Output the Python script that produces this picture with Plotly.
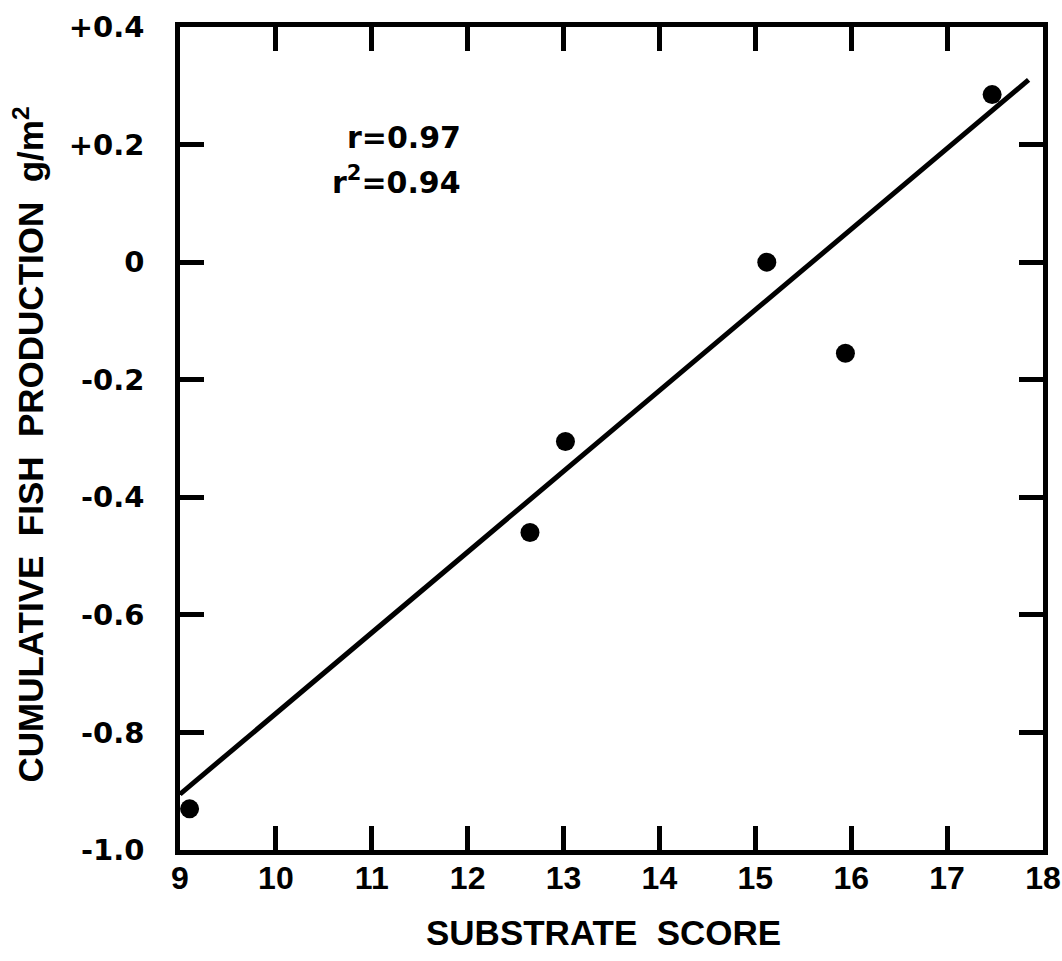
import plotly.graph_objects as go

# Data
substrate_score = [9.1, 12.65, 13.02, 15.12, 15.94, 17.47]
fish_production = [-0.93, -0.46, -0.305, 0.0, -0.155, 0.285]

fit_x = [9.0, 17.85]
fit_y = [-0.905, 0.31]

x_tick_vals = [9, 10, 11, 12, 13, 14, 15, 16, 17, 18]
x_tick_text = ["9", "10", "11", "12", "13", "14", "15", "16", "17", "18"]
y_tick_vals = [-1.0, -0.8, -0.6, -0.4, -0.2, 0.0, 0.2, 0.4]
y_tick_text = ["-1.0", "-0.8", "-0.6", "-0.4", "-0.2", "0", "+0.2", "+0.4"]

FONT = "Liberation Sans"
WIDE = "DejaVu Sans"

W, H = 1062, 961
L, T, R, B = 180, 27, 19, 111

fig = go.Figure()
fig.add_trace(go.Scatter(x=fit_x, y=fit_y, mode="lines",
                         line=dict(color="black", width=5),
                         hoverinfo="skip", showlegend=False))
fig.add_trace(go.Scatter(x=substrate_score, y=fish_production, mode="markers",
                         marker=dict(color="black", size=19),
                         cliponaxis=False, showlegend=False))

fig.update_layout(
    width=W, height=H,
    margin=dict(l=L, r=R, t=T, b=B),
    plot_bgcolor="white", paper_bgcolor="white",
    font=dict(family=FONT, color="black", weight="bold"),
    xaxis=dict(range=[9, 18.0005], tickvals=x_tick_vals, ticktext=x_tick_text,
               showgrid=False, zeroline=False, showline=True, linecolor="black",
               linewidth=4.5, mirror="ticks", ticks="inside", ticklen=24,
               tickwidth=4.5, tickcolor="black", ticklabelstandoff=-4,
               automargin=False, ticklabeloverflow="allow",
               tickfont=dict(size=32, family=FONT, weight="bold")),
    yaxis=dict(range=[-1.0, 0.4], tickvals=y_tick_vals, ticktext=y_tick_text,
               showgrid=False, zeroline=False, showline=True, linecolor="black",
               linewidth=4.5, mirror="ticks", ticks="inside", ticklen=24,
               tickwidth=4.5, tickcolor="black", ticklabelstandoff=25,
               automargin=False, ticklabeloverflow="allow",
               tickfont=dict(size=29, family=WIDE, weight="bold")),
    annotations=[
        dict(text="r=0.97", xref="paper", yref="paper", x=0, y=1,
             xanchor="right", yanchor="middle", xshift=463 - L, yshift=-(137 - T),
             showarrow=False, font=dict(size=30, family=WIDE, weight="bold")),
        dict(text="r<sup>2</sup>=0.94", xref="paper", yref="paper", x=0, y=1,
             xanchor="right", yanchor="middle", xshift=463 - L, yshift=-(180 - T),
             showarrow=False, font=dict(size=30, family=WIDE, weight="bold")),
        dict(text="SUBSTRATE\u00a0\u00a0SCORE", xref="paper", yref="paper", x=0.5, y=0,
             xanchor="center", yanchor="middle", yshift=-82, xshift=-8,
             showarrow=False, font=dict(size=35, family=FONT, weight="bold")),
        dict(text="CUMULATIVE\u00a0\u00a0FISH\u00a0\u00a0PRODUCTION\u00a0\u00a0g/m<sup>2</sup>",
             xref="paper", yref="paper", x=0, y=0.5, textangle=-90,
             xanchor="center", yanchor="middle", xshift=-(L - 28), yshift=-6,
             showarrow=False, font=dict(size=35, family=FONT, weight="bold")),
    ],
)

fig.write_html(
    "out.html",
    config={"displayModeBar": False},
    post_script="document.body.style.margin='0';"
                "document.documentElement.style.overflow='hidden';",
)
